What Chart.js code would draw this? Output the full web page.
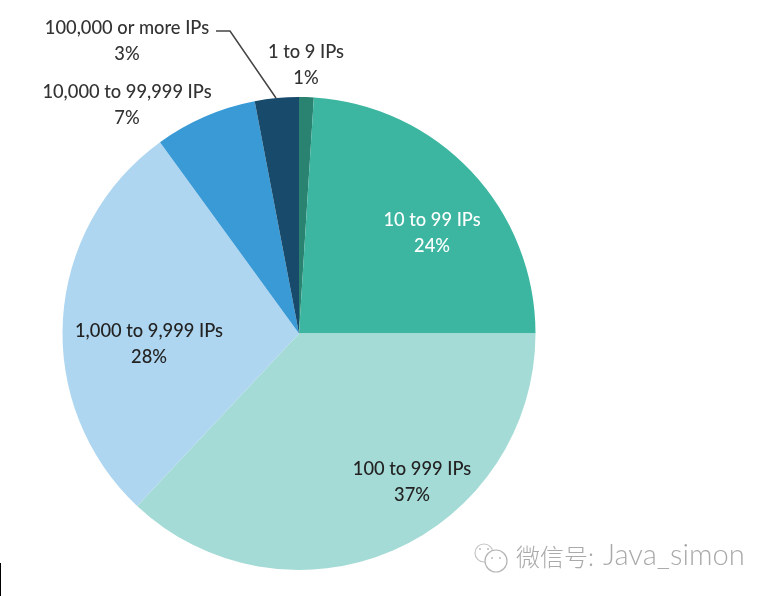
<!DOCTYPE html>
<html>
<head>
<meta charset="utf-8">
<style>
html, body { margin: 0; padding: 0; background: #fff; overflow: hidden; }
#wrap { position: relative; width: 770px; height: 596px; }
#myPie { filter: blur(0.6px); }
</style>
<script src="https://cdn.jsdelivr.net/npm/chart.js@4"></script>
</head>
<body>
<div id="wrap"><canvas id="myPie" width="770" height="596"></canvas></div>
<script>
// Slices, clockwise from 12 o'clock
var categories = ['1 to 9 IPs', '10 to 99 IPs', '100 to 999 IPs', '1,000 to 9,999 IPs', '10,000 to 99,999 IPs', '100,000 or more IPs'];
var shares = [1, 24, 37, 28, 7, 3];
var colors = ['#2a8270', '#3cb6a0', '#a5dbd6', '#aed6f0', '#3a9ad6', '#174a6b'];
var labelX = [306, 432, 412, 149, 127, 127];
var labelY = [52, 220, 469, 331, 92, 28];
var labelColors = ['#333', '#fff', '#222', '#222', '#333', '#333'];

// Text next to the slices, the leader line and the watermark
var annotations = {
    id: 'annotations',
    afterDraw: function (chart) {
        var c = chart.ctx;
        c.save();
        c.textAlign = 'center';
        c.textBaseline = 'middle';
        c.font = '500 18.3px Lato';
        categories.forEach(function (name, i) {
            c.fillStyle = labelColors[i];
            c.fillText(name, labelX[i], labelY[i]);
            c.fillText(shares[i] + '%', labelX[i], labelY[i] + 26);
        });

        c.strokeStyle = '#444';
        c.lineWidth = 1.5;
        c.beginPath();
        c.moveTo(216, 31);
        c.lineTo(230, 31);
        c.lineTo(276, 98);
        c.stroke();

        // edge of the neighbouring image, bottom left
        c.fillStyle = '#000';
        c.fillRect(0, 563, 1, 33);

        // watermark
        c.strokeStyle = '#c4c4c4';
        c.lineWidth = 1.2;
        c.beginPath();
        c.arc(484, 553, 9, 0, Math.PI * 2);
        c.stroke();
        c.fillStyle = '#fff';
        c.strokeStyle = '#b4b4b4';
        c.beginPath();
        c.arc(496, 561, 11, 0, Math.PI * 2);
        c.fill();
        c.stroke();
        c.fillStyle = '#bbb';
        [[480, 549], [488, 549], [492, 558], [500, 558]].forEach(function (d) {
            c.beginPath();
            c.arc(d[0], d[1], 1, 0, Math.PI * 2);
            c.fill();
        });
        c.fillStyle = '#aaa';
        c.textAlign = 'left';
        c.font = '300 24px "Noto Sans CJK SC"';
        c.fillText('微信号:', 516, 557);
        c.font = '300 29.2px Lato';
        c.fillText('Java_simon', 603, 556);
        c.restore();
    }
};

var myPie = new Chart(document.getElementById('myPie'), {
    type: 'pie',
    data: {
        labels: categories,
        datasets: [{
            data: shares,
            backgroundColor: colors,
            borderWidth: 0
        }]
    },
    options: {
        responsive: false,
        animation: false,
        layout: { padding: { left: 62, right: 234, top: 97, bottom: 26 } },
        plugins: { legend: { display: false }, tooltip: { enabled: false } }
    },
    plugins: [annotations]
});
</script>
</body>
</html>
